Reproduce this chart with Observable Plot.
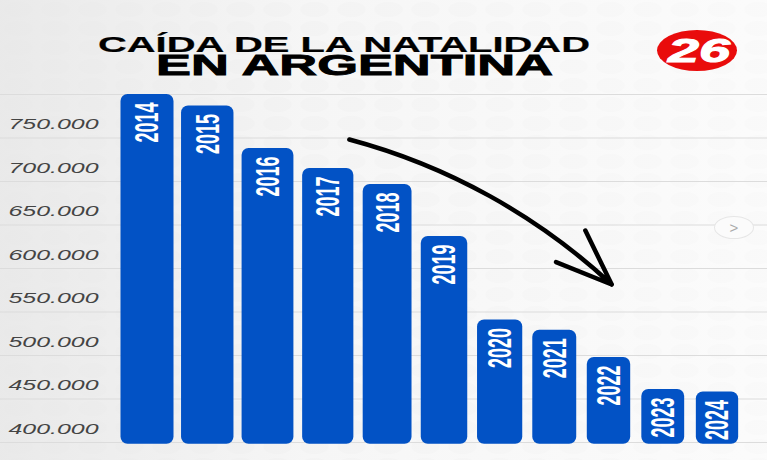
<!DOCTYPE html>
<html lang="es">
<head>
<meta charset="utf-8">
<script src="https://cdn.jsdelivr.net/npm/d3@7"></script>
<script src="https://cdn.jsdelivr.net/npm/@observablehq/plot@0.6"></script>
<style>
html,body{margin:0;padding:0;width:767px;height:460px;overflow:hidden}
body{position:relative;font-family:"Liberation Sans",Arial,sans-serif;
background-color:#f7f7f7;
background-image:linear-gradient(90deg,rgba(232,232,232,.9) 0,rgba(245,245,245,.55) 40%,rgba(253,253,253,.7) 100%),
radial-gradient(ellipse 15px 8px at 50% 50%,rgba(0,0,0,.025) 90%,transparent 100%);
background-size:100% 100%,37px 19px}
.t{position:absolute;white-space:nowrap;transform-origin:0 0;margin:0;color:#000;font-weight:700;line-height:.8}
#logo{position:absolute;left:657px;top:30px;width:80px;height:41px;border-radius:50%;background:#e90c0c}
#next{position:absolute;left:714px;top:216px;width:38px;height:21px;border-radius:50%;background:#fbfbfb;border:1px solid #e6e6e6;color:#aaa;font-size:15px;line-height:21px;text-align:center}
svg{position:absolute;left:0;top:0}
</style>
</head>
<body>
<div id="chart"></div>
<h1 class="t" id="t1" style="font-size:22px;top:36px;-webkit-text-stroke:.2px #000">CAÍDA DE LA NATALIDAD</h1>
<h1 class="t" id="t2" style="font-size:29px;top:54px;-webkit-text-stroke:.8px #000">EN ARGENTINA</h1>
<div id="logo"></div>
<div class="t" id="l26" style="font-size:34px;top:37px;color:#fff;font-style:italic;-webkit-text-stroke:1px #fff">26</div>
<div id="next">&gt;</div>
<script>
const years = [2014, 2015, 2016, 2017, 2018, 2019, 2020, 2021, 2022, 2023, 2024];
const births = [800000, 786800, 738000, 715000, 696500, 636800, 540800, 529000, 497700, 461000, 458000];
const yTicks = [400000, 450000, 500000, 550000, 600000, 650000, 700000, 750000, 800000];
const yLabels = ["400.000", "450.000", "500.000", "550.000", "600.000", "650.000", "700.000", "750.000"];

const rows = years.map((year, i) => ({year, births: births[i]}));
const labelRows = yLabels.map((label, i) => ({label, value: yTicks[i]}));
const halfBar = d => 0.44 - 0.005 * (d.year - 2014);

const svg = Plot.plot({
  width: 767,
  height: 460,
  margin: 0,
  style: {background: "transparent", overflow: "visible"},
  x: {type: "linear", domain: [2014, 2018, 2020, 2024], range: [147, 388, 500, 717], axis: null},
  y: {type: "linear", domain: [400000, 800000], range: [442, 94], axis: null},
  marks: [
    Plot.ruleY(yTicks, {stroke: "#dcdcdc", strokeWidth: 1.2}),
    Plot.rect(rows, {
      x1: d => d.year - halfBar(d),
      x2: d => d.year + halfBar(d),
      y1: 398000,
      y2: "births",
      fill: "#0252c5",
      rx: 7,
      ry: 7
    }),
    Plot.text(rows, {
      x: "year",
      y: "births",
      text: d => String(d.year),
      rotate: -90,
      textAnchor: "end",
      dy: 8,
      fill: "#fff",
      fontSize: 34,
      fontWeight: 700,
      fontFamily: "Liberation Sans"
    }),
    Plot.text(labelRows, {
      frameAnchor: "left",
      y: "value",
      text: "label",
      dx: 8,
      dy: -13,
      textAnchor: "start",
      fill: "#444",
      fontSize: 14,
      fontStyle: "italic",
      fontFamily: "Liberation Sans"
    }),
    Plot.arrow([{x1: 2017.35, y1: 748300, x2: 2022.05, y2: 581600}], {
      x1: "x1", y1: "y1", x2: "x2", y2: "y2",
      bend: 14,
      stroke: "#000",
      strokeWidth: 4.5,
      headLength: 20,
      headAngle: 42
    })
  ]
});
document.getElementById("chart").append(svg);

const textGroups = d3.select(svg).selectAll('g[aria-label="text"]');
d3.select(textGroups.nodes()[0]).selectAll("text")
  .attr("textLength", 40).attr("lengthAdjust", "spacingAndGlyphs");
d3.select(textGroups.nodes()[1]).selectAll("text")
  .attr("textLength", 90).attr("lengthAdjust", "spacingAndGlyphs");

function fit(id, left, width) {
  const el = document.getElementById(id);
  const w = el.getBoundingClientRect().width;
  el.style.left = left + "px";
  el.style.transform = `scaleX(${width / w})`;
}
fit("t1", 98, 492);
fit("t2", 156, 397);
fit("l26", 668, 62);
</script>
</body>
</html>
